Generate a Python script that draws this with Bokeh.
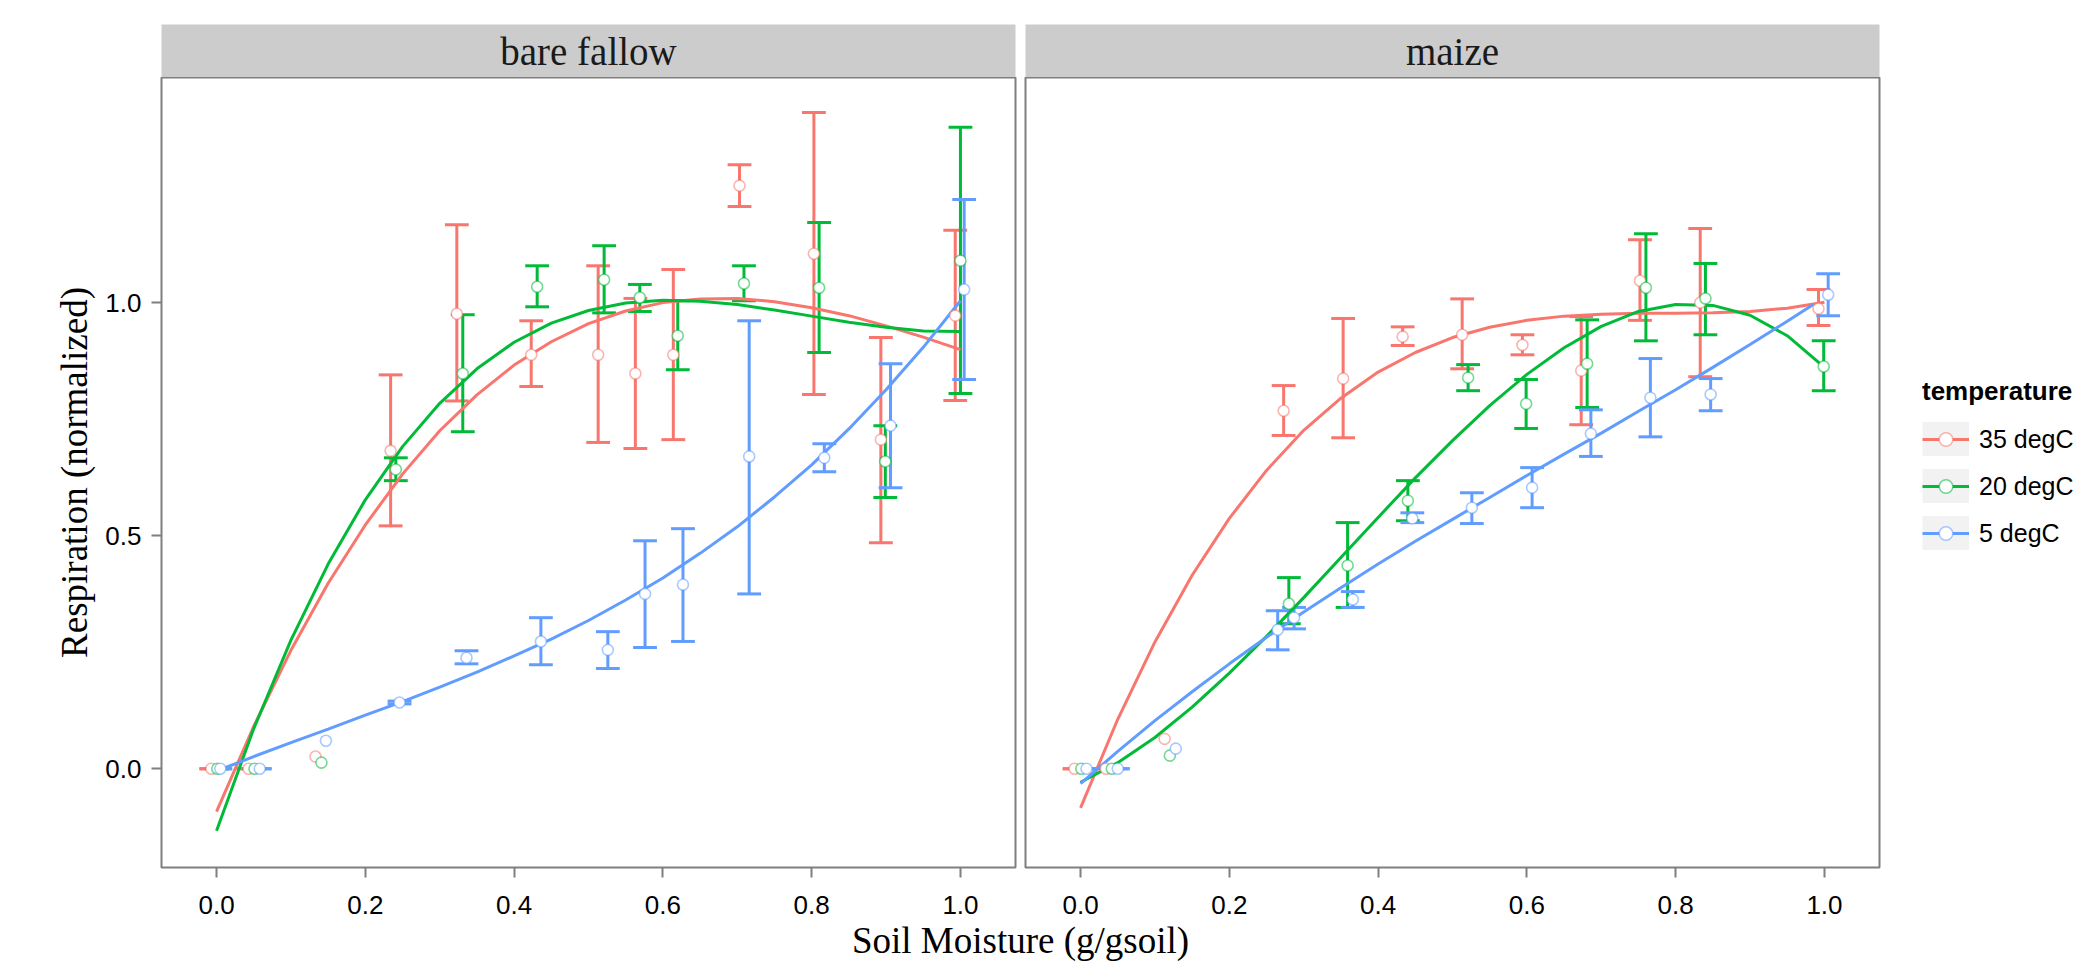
import numpy as np
from bokeh.plotting import figure
from bokeh.layouts import row, column
from bokeh.models import Range1d, FixedTicker, PrintfTickFormatter, Legend, LegendItem
from bokeh.core.properties import value
from bokeh.embed import file_html
from bokeh.resources import INLINE

# ---------------- data ----------------
FACETS = ["bare fallow", "maize"]
TEMPS = ["35 degC", "20 degC", "5 degC"]
COLORS = ["#F8766D", "#00BA38", "#619CFF"]
X_TICKS = [0.0, 0.2, 0.4, 0.6, 0.8, 1.0]
Y_TICKS = [0.0, 0.5, 1.0]
NAN = float("nan")

# bare fallow, 35 degC
bf35_x = [-0.007, 0.043, 0.133, 0.234, 0.323, 0.423, 0.513, 0.563, 0.614, 0.703, 0.803, 0.893, 0.993]
bf35_y = [0.0, 0.0, 0.026, 0.682, 0.976, 0.888, 0.888, 0.848, 0.888, 1.251, 1.105, 0.706, 0.972]
bf35_lo = [0.0, 0.0, NAN, 0.521, 0.789, 0.820, 0.700, 0.687, 0.706, 1.206, 0.803, 0.485, 0.790]
bf35_hi = [0.0, 0.0, NAN, 0.845, 1.167, 0.961, 1.079, 1.009, 1.071, 1.296, 1.408, 0.925, 1.155]
# bare fallow, 20 degC
bf20_x = [0.001, 0.051, 0.141, 0.241, 0.331, 0.431, 0.521, 0.569, 0.620, 0.709, 0.810, 0.899, 1.000]
bf20_y = [0.0, 0.0, 0.013, 0.642, 0.848, 1.034, 1.049, 1.011, 0.929, 1.041, 1.032, 0.659, 1.090]
bf20_lo = [0.0, 0.0, NAN, 0.618, 0.723, 0.991, 0.978, 0.981, 0.856, 1.004, 0.893, 0.582, 0.805]
bf20_hi = [0.0, 0.0, NAN, 0.667, 0.974, 1.079, 1.122, 1.039, 1.004, 1.079, 1.172, 0.736, 1.376]
# bare fallow, 5 degC
bf5_x = [0.005, 0.058, 0.147, 0.246, 0.336, 0.436, 0.526, 0.576, 0.627, 0.716, 0.817, 0.906, 1.005]
bf5_y = [0.0, 0.0, 0.060, 0.142, 0.238, 0.273, 0.255, 0.375, 0.395, 0.670, 0.667, 0.736, 1.028]
bf5_lo = [0.0, 0.0, NAN, 0.139, 0.225, 0.223, 0.215, 0.260, 0.273, 0.375, 0.637, 0.603, 0.835]
bf5_hi = [0.0, 0.0, NAN, 0.145, 0.253, 0.324, 0.294, 0.489, 0.515, 0.961, 0.697, 0.869, 1.221]

# maize, 35 degC
mz35_x = [-0.008, 0.034, 0.113, 0.273, 0.353, 0.433, 0.513, 0.594, 0.673, 0.752, 0.833, 0.992]
mz35_y = [0.0, 0.0, 0.064, 0.768, 0.837, 0.927, 0.931, 0.909, 0.854, 1.047, 1.000, 0.987]
mz35_lo = [0.0, 0.0, NAN, 0.715, 0.710, 0.908, 0.858, 0.888, 0.738, 0.962, 0.841, 0.951]
mz35_hi = [0.0, 0.0, NAN, 0.822, 0.966, 0.948, 1.008, 0.931, 0.970, 1.135, 1.159, 1.028]
# maize, 20 degC
mz20_x = [0.001, 0.042, 0.120, 0.280, 0.359, 0.440, 0.521, 0.599, 0.681, 0.760, 0.840, 0.999]
mz20_y = [0.0, 0.0, 0.028, 0.354, 0.436, 0.575, 0.839, 0.783, 0.869, 1.032, 1.009, 0.863]
mz20_lo = [0.0, 0.0, NAN, 0.311, 0.346, 0.532, 0.811, 0.730, 0.775, 0.918, 0.931, 0.811]
mz20_hi = [0.0, 0.0, NAN, 0.410, 0.528, 0.618, 0.867, 0.835, 0.963, 1.148, 1.084, 0.918]
# maize, 5 degC
mz5_x = [0.008, 0.050, 0.128, 0.265, 0.287, 0.366, 0.446, 0.526, 0.607, 0.686, 0.766, 0.847, 1.005]
mz5_y = [0.0, 0.0, 0.043, 0.298, 0.324, 0.363, 0.537, 0.560, 0.603, 0.719, 0.796, 0.803, 1.017]
mz5_lo = [0.0, 0.0, NAN, 0.255, 0.300, 0.346, 0.528, 0.526, 0.560, 0.670, 0.712, 0.768, 0.972]
mz5_hi = [0.0, 0.0, NAN, 0.339, 0.346, 0.380, 0.549, 0.592, 0.646, 0.770, 0.880, 0.837, 1.062]

# fitted curves
CURVE_X = [0.0, 0.05, 0.1, 0.15, 0.2, 0.25, 0.3, 0.35, 0.4, 0.45, 0.5,
           0.55, 0.6, 0.65, 0.7, 0.75, 0.8, 0.85, 0.9, 0.95, 1.0]
CURVE_X_MZ5 = [0.0, 0.05, 0.1, 0.15, 0.2, 0.25, 0.3, 0.35, 0.4, 0.45, 0.5,
               0.55, 0.6, 0.65, 0.7, 0.75, 0.8, 0.85, 0.9, 0.95, 0.985]
bf35_fit = [-0.092, 0.091, 0.254, 0.398, 0.523, 0.632, 0.725, 0.802, 0.866, 0.916, 0.955,
            0.982, 1.000, 1.008, 1.009, 1.002, 0.989, 0.972, 0.950, 0.926, 0.899]
bf20_fit = [-0.133, 0.086, 0.276, 0.439, 0.577, 0.691, 0.784, 0.858, 0.915, 0.956, 0.983,
            0.999, 1.005, 1.003, 0.996, 0.984, 0.971, 0.958, 0.947, 0.939, 0.938]
bf5_fit = [-0.005, 0.026, 0.056, 0.085, 0.115, 0.144, 0.175, 0.207, 0.242, 0.278, 0.318,
           0.362, 0.409, 0.462, 0.519, 0.583, 0.652, 0.729, 0.813, 0.904, 1.004]
mz35_fit = [-0.084, 0.106, 0.272, 0.415, 0.537, 0.640, 0.726, 0.795, 0.851, 0.893, 0.925,
            0.947, 0.962, 0.971, 0.975, 0.977, 0.977, 0.978, 0.981, 0.988, 1.001]
mz20_fit = [-0.029, 0.013, 0.067, 0.132, 0.205, 0.284, 0.367, 0.453, 0.539, 0.624, 0.704,
            0.779, 0.846, 0.903, 0.949, 0.981, 0.996, 0.994, 0.973, 0.929, 0.861]
mz5_fit = [-0.032, 0.037, 0.103, 0.165, 0.225, 0.282, 0.336, 0.388, 0.439, 0.488, 0.535,
           0.582, 0.629, 0.675, 0.720, 0.767, 0.813, 0.861, 0.910, 0.960, 0.996]

PANELS = {
    "bare fallow": [
        (bf35_x, bf35_y, bf35_lo, bf35_hi, CURVE_X, bf35_fit),
        (bf20_x, bf20_y, bf20_lo, bf20_hi, CURVE_X, bf20_fit),
        (bf5_x, bf5_y, bf5_lo, bf5_hi, CURVE_X, bf5_fit),
    ],
    "maize": [
        (mz35_x, mz35_y, mz35_lo, mz35_hi, CURVE_X, mz35_fit),
        (mz20_x, mz20_y, mz20_lo, mz20_hi, CURVE_X, mz20_fit),
        (mz5_x, mz5_y, mz5_lo, mz5_hi, CURVE_X_MZ5, mz5_fit),
    ],
}

# ---------------- styling ----------------
SERIF = "Liberation Serif"
SANS = "Liberation Sans"
LW = 3
CAP = 0.016
PT_SIZE = 11
FRAME_W = 854
FRAME_H = 790
LEFT_B = 161
GAP_L = 4
GAP_R = 6
RIGHT_B = 2
BOTTOM_B = 51
STRIP_TOP = 24
STRIP_H = 53
TOTAL_W = 2079
TOTAL_H = 968
XLAB_H = TOTAL_H - (STRIP_TOP + STRIP_H + FRAME_H + BOTTOM_B)
X_RANGE = (-0.074, 1.074)
Y_RANGE = (-0.212, 1.483)


def style_panel(p, show_y):
    p.xgrid.visible = False
    p.ygrid.visible = False
    p.outline_line_color = "#7F7F7F"
    p.outline_line_width = 2
    p.background_fill_color = "white"
    p.border_fill_color = "white"
    axes = [p.xaxis[0]] + ([p.yaxis[0]] if show_y else [])
    for ax in axes:
        ax.axis_line_color = None
        ax.major_tick_line_color = "#7F7F7F"
        ax.major_tick_line_width = 2
        ax.major_tick_in = 0
        ax.major_tick_out = 10
        ax.minor_tick_line_color = None
        ax.major_label_text_font = SANS
        ax.major_label_text_font_size = "26px"
        ax.major_label_text_color = "black"
        ax.formatter = PrintfTickFormatter(format="%.1f")
    p.xaxis.ticker = FixedTicker(ticks=X_TICKS)
    p.xaxis.major_label_standoff = 18
    if show_y:
        p.yaxis.ticker = FixedTicker(ticks=Y_TICKS)
        p.yaxis.major_label_standoff = 10
        p.yaxis.axis_label = "Respiration (normalized)"
        p.yaxis.axis_label_text_font = SERIF
        p.yaxis.axis_label_text_font_size = "37px"
        p.yaxis.axis_label_text_font_style = "normal"
        p.yaxis.axis_label_text_color = "black"
        p.yaxis.axis_label_standoff = 7


def draw_panel(p, series):
    # error bars
    for (x, y, lo, hi, cx, cy), c in zip(series, COLORS):
        xs = np.array(x); los = np.array(lo); his = np.array(hi)
        m = ~np.isnan(los)
        p.segment(x0=xs[m], y0=los[m], x1=xs[m], y1=his[m], line_color=c, line_width=LW)
        p.segment(x0=xs[m] - CAP, y0=los[m], x1=xs[m] + CAP, y1=los[m], line_color=c, line_width=LW)
        p.segment(x0=xs[m] - CAP, y0=his[m], x1=xs[m] + CAP, y1=his[m], line_color=c, line_width=LW)
    # fitted curves
    for (x, y, lo, hi, cx, cy), c in zip(series, COLORS):
        p.line(cx, cy, line_color=c, line_width=LW)
    # points
    for (x, y, lo, hi, cx, cy), c in zip(series, COLORS):
        p.scatter(x, y, marker="circle", size=PT_SIZE, fill_color="white",
                  line_color=c, line_width=1.6, line_alpha=0.55)


def make_strip(label, left, right):
    s = figure(width=left + FRAME_W + right, height=STRIP_TOP + STRIP_H,
               x_range=Range1d(0, 1), y_range=Range1d(0, 1),
               x_axis_location=None, y_axis_location=None,
               min_border_left=left, min_border_right=right,
               min_border_top=STRIP_TOP, min_border_bottom=0,
               toolbar_location=None, output_backend="svg")
    s.xgrid.visible = False
    s.ygrid.visible = False
    s.background_fill_color = "#CCCCCC"
    s.border_fill_color = "white"
    s.outline_line_color = None
    s.text(x=[0.5], y=[0.49], text=[label], text_align="center",
           text_baseline="middle", text_font=value(SERIF),
           text_font_size="39px", text_color="#1a1a1a")
    return s


# left panel
pL = figure(width=LEFT_B + FRAME_W + GAP_L, height=FRAME_H + BOTTOM_B,
            x_range=Range1d(*X_RANGE), y_range=Range1d(*Y_RANGE),
            min_border_left=LEFT_B, min_border_right=GAP_L,
            min_border_top=0, min_border_bottom=BOTTOM_B,
            toolbar_location=None, output_backend="svg")
style_panel(pL, True)
draw_panel(pL, PANELS[FACETS[0]])

# right panel
pR = figure(width=GAP_R + FRAME_W + RIGHT_B, height=FRAME_H + BOTTOM_B,
            x_range=Range1d(*X_RANGE), y_range=Range1d(*Y_RANGE),
            y_axis_location=None,
            min_border_left=GAP_R, min_border_right=RIGHT_B,
            min_border_top=0, min_border_bottom=BOTTOM_B,
            toolbar_location=None, output_backend="svg")
style_panel(pR, False)
draw_panel(pR, PANELS[FACETS[1]])

sL = make_strip(FACETS[0], LEFT_B, GAP_L)
sR = make_strip(FACETS[1], GAP_R, RIGHT_B)

# legend figure (its proxy renderers lie outside its visible ranges)
LEG_W = TOTAL_W - (LEFT_B + FRAME_W + GAP_L) - (GAP_R + FRAME_W + RIGHT_B)
LEG_H = STRIP_TOP + STRIP_H + FRAME_H + BOTTOM_B
lf = figure(width=LEG_W, height=LEG_H, x_range=Range1d(5, 6), y_range=Range1d(5, 6),
            x_axis_location=None, y_axis_location=None,
            min_border_left=0, min_border_right=0, min_border_top=0, min_border_bottom=0,
            toolbar_location=None, output_backend="svg")
lf.xgrid.visible = False
lf.ygrid.visible = False
lf.outline_line_color = None
items = []
for (x, y, lo, hi, cx, cy), t, c in zip(PANELS[FACETS[0]], TEMPS, COLORS):
    bg = lf.line(cx, cy, line_color="#F2F2F2", line_width=44)
    ln = lf.line(cx, cy, line_color=c, line_width=LW)
    pt = lf.scatter(x, y, marker="circle", size=PT_SIZE, fill_color="white",
                    line_color=c, line_width=1.6, line_alpha=0.55)
    items.append(LegendItem(label=t, renderers=[bg, ln, pt]))
leg = Legend(items=items, title="temperature", location=(41, 368),
             orientation="vertical", glyph_width=47, glyph_height=34, spacing=13,
             label_standoff=10, padding=0, margin=0,
             border_line_color=None, background_fill_alpha=0,
             label_text_font=SANS, label_text_font_size="25px", label_text_color="black",
             title_text_font=SANS, title_text_font_size="26px",
             title_text_font_style="bold", title_text_color="black", title_standoff=15)
lf.add_layout(leg, "center")

# x-axis title figure
xf = figure(width=TOTAL_W, height=XLAB_H, x_range=Range1d(0, 1), y_range=Range1d(0, 1),
            x_axis_location=None, y_axis_location=None,
            min_border_left=LEFT_B, min_border_right=LEG_W + RIGHT_B,
            min_border_top=0, min_border_bottom=0,
            toolbar_location=None, output_backend="svg")
xf.xgrid.visible = False
xf.ygrid.visible = False
xf.outline_line_color = None
xf.text(x=[0.5], y=[0.57], text=["Soil Moisture (g/gsoil)"], text_align="center",
        text_baseline="middle", text_font=value(SERIF), text_font_size="37px",
        text_color="black")

layout = column(row(column(sL, pL), column(sR, pR), lf), xf)

with open("out.html", "w") as f:
    f.write(file_html(layout, INLINE))
